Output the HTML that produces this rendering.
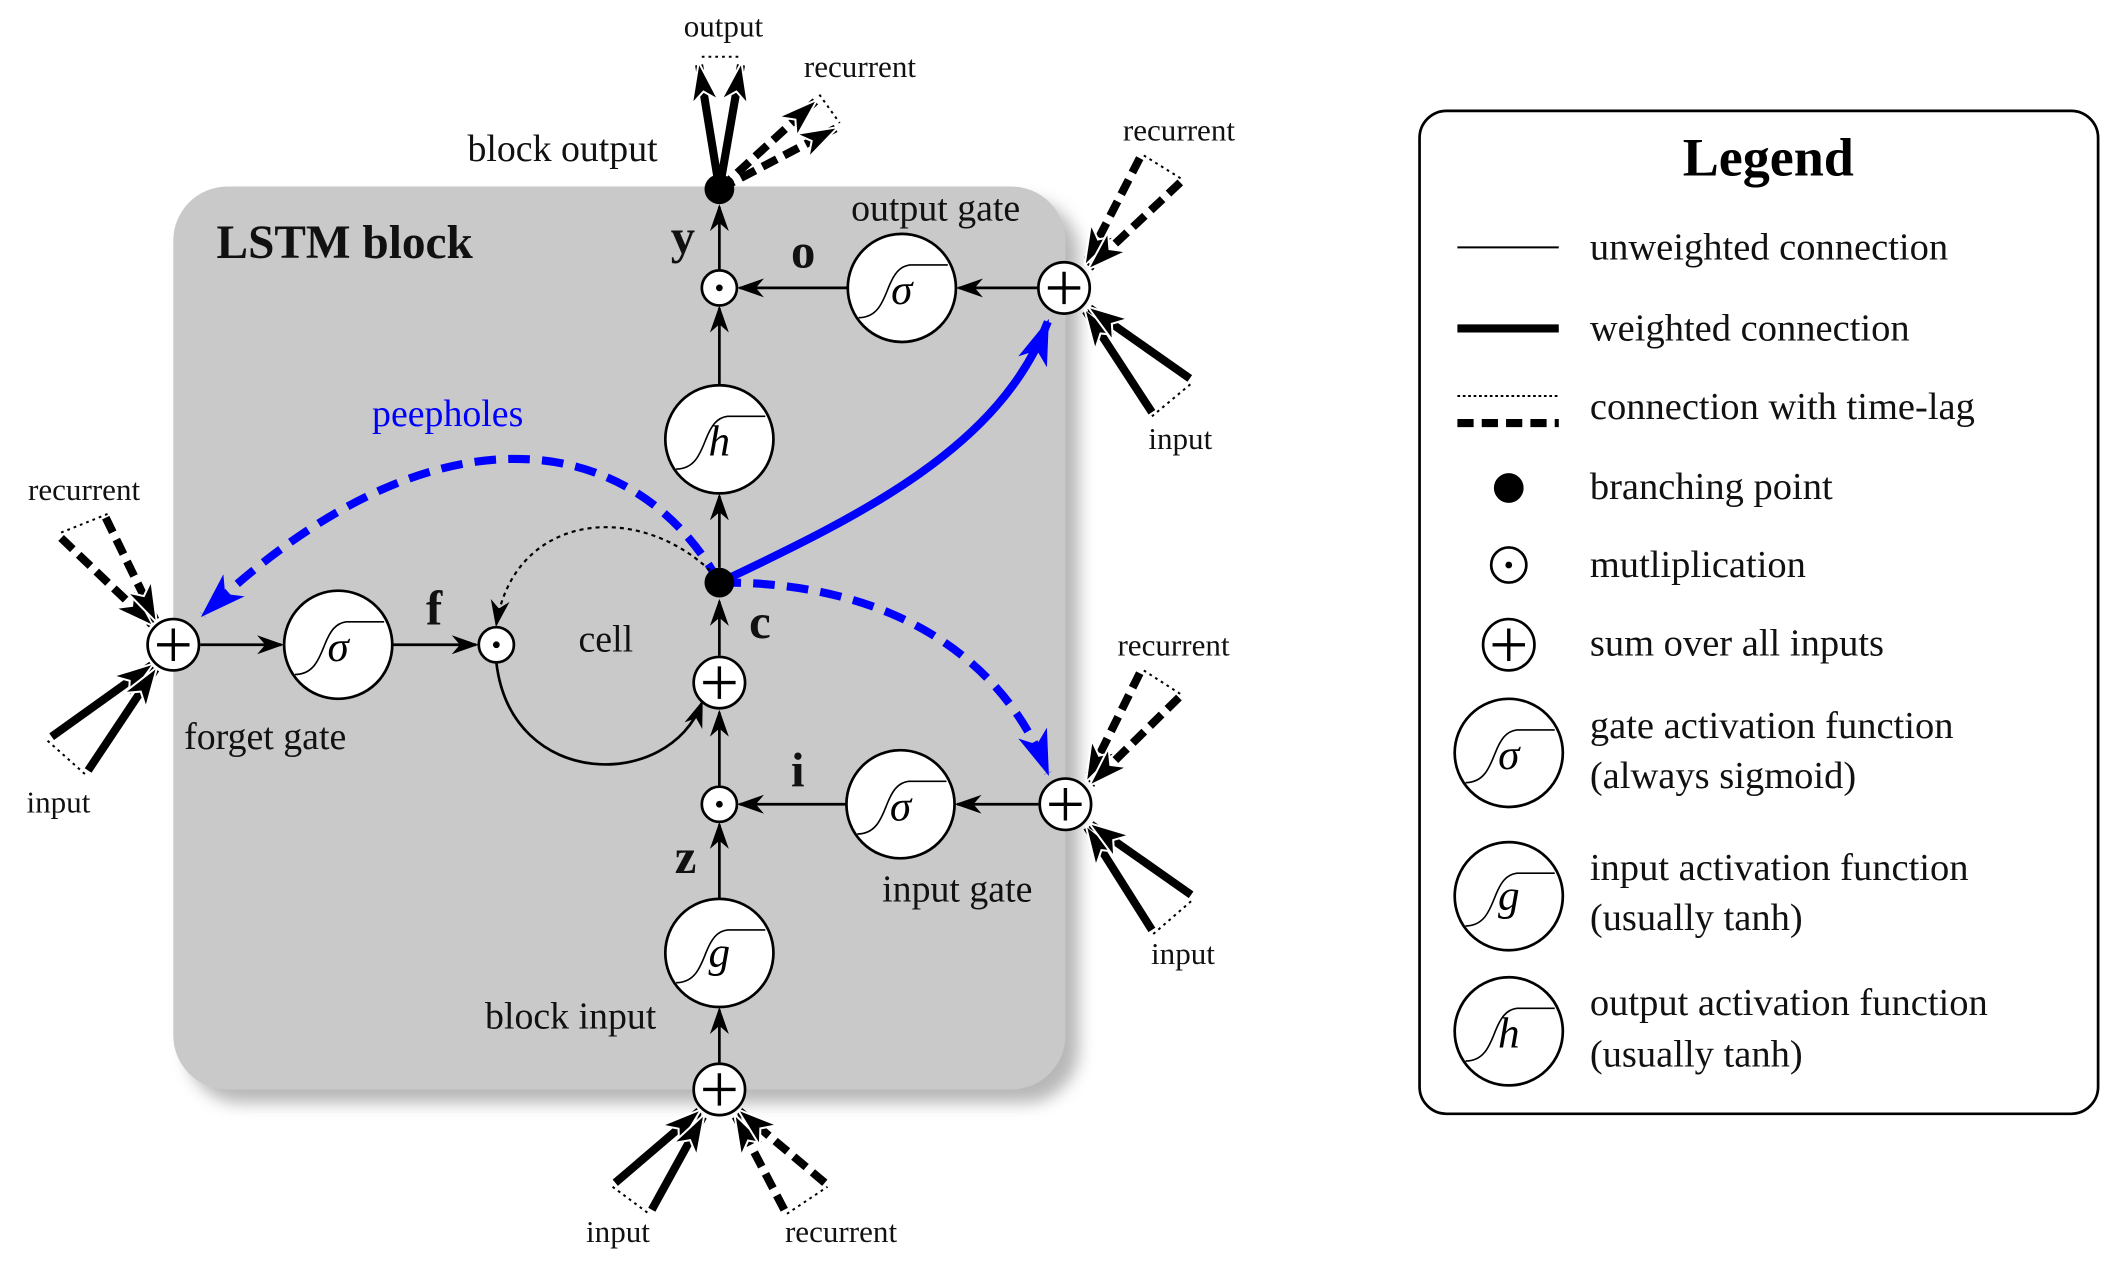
<!DOCTYPE html>
<html><head><meta charset="utf-8"><style>
html,body{margin:0;padding:0;background:#fff;}
svg{display:block;}
text{font-family:"Liberation Serif",serif;}
</style></head><body>
<svg width="2120" height="1276" viewBox="0 0 1568 944" xmlns="http://www.w3.org/2000/svg">
<defs>
<marker id="ah" viewBox="0 0 20 20" refX="18" refY="10" markerWidth="20" markerHeight="20" markerUnits="userSpaceOnUse" orient="auto">
<path d="M0,3 L20,10 L0,17 L6,10 Z" fill="#000"/></marker>
<marker id="at" viewBox="0 0 30 24" refX="28" refY="12" markerWidth="30" markerHeight="24" markerUnits="userSpaceOnUse" orient="auto">
<path d="M0,2 L30,12 L0,22 L8,12 Z" fill="#000" stroke="#fff" stroke-width="1.5"/></marker>
<marker id="ab" viewBox="0 0 30 24" refX="28" refY="12" markerWidth="34" markerHeight="28" markerUnits="userSpaceOnUse" orient="auto">
<path d="M0,2 L30,12 L0,22 L8,12 Z" fill="#00f"/></marker>
<filter id="sh" x="-10%" y="-10%" width="130%" height="130%"><feGaussianBlur stdDeviation="6"/></filter>
<g id="sig"><path d="M-32,22 C-18,22 -14,10 -10,0 C-6,-10 -2,-16 6,-17 L34,-17" fill="none" stroke="#000" stroke-width="1.2"/></g>
</defs>
<rect x="138" y="148" width="660" height="668" rx="40" fill="#999" filter="url(#sh)" opacity="0.7"/>
<rect x="128" y="138" width="660" height="668" rx="40" fill="#c9c9c9"/>
<text x="160" y="191" font-size="35" font-weight="bold" fill="#111">LSTM block</text>

<!-- blue peepholes -->
<path d="M532,431 C470,318 320,292 150,455" fill="none" stroke="#00f" stroke-width="6" stroke-dasharray="16,9" marker-end="url(#ab)"/>
<path d="M532,431 C650,430 740,480 775,572" fill="none" stroke="#00f" stroke-width="6" stroke-dasharray="16,9" marker-end="url(#ab)"/>
<path d="M532,431 C640,380 740,330 775,238" fill="none" stroke="#00f" stroke-width="6" marker-end="url(#ab)"/>
<text x="331" y="315" font-size="28" fill="#00f" text-anchor="middle">peepholes</text>

<!-- thin connections -->
<g stroke="#000" stroke-width="2" fill="none">
<line x1="532" y1="786" x2="532" y2="747" marker-end="url(#ah)"/>
<line x1="532" y1="665" x2="532" y2="610" marker-end="url(#ah)"/>
<line x1="532" y1="582" x2="532" y2="527" marker-end="url(#ah)"/>
<line x1="532" y1="485" x2="532" y2="445" marker-end="url(#ah)"/>
<line x1="532" y1="420" x2="532" y2="367" marker-end="url(#ah)"/>
<line x1="532" y1="285" x2="532" y2="228" marker-end="url(#ah)"/>
<line x1="532" y1="200" x2="532" y2="153" marker-end="url(#ah)"/>
<line x1="767" y1="213" x2="709" y2="213" marker-end="url(#ah)"/>
<line x1="627" y1="213" x2="547" y2="213" marker-end="url(#ah)"/>
<line x1="768" y1="595" x2="708" y2="595" marker-end="url(#ah)"/>
<line x1="626" y1="595" x2="547" y2="595" marker-end="url(#ah)"/>
<line x1="148" y1="477" x2="208" y2="477" marker-end="url(#ah)"/>
<line x1="290" y1="477" x2="352" y2="477" marker-end="url(#ah)"/>
<path d="M367,490 C378,585 495,585 519,520" marker-end="url(#ah)"/>
<path d="M525,422 C470,370 380,380 367,462" stroke-dasharray="3,3" stroke-width="1.6" marker-end="url(#ah)"/>
</g>

<!-- weighted external connections -->
<g stroke="#000" stroke-width="6" fill="none">
<line x1="532" y1="140" x2="517" y2="48" marker-end="url(#at)"/>
<line x1="532" y1="140" x2="548" y2="48" marker-end="url(#at)"/>
<line x1="532" y1="140" x2="603" y2="75" stroke-dasharray="12,6" marker-end="url(#at)"/>
<line x1="532" y1="140" x2="618" y2="95" stroke-dasharray="12,6" marker-end="url(#at)"/>
<line x1="843" y1="117" x2="803" y2="195" stroke-dasharray="12,6" marker-end="url(#at)"/>
<line x1="873" y1="135" x2="806" y2="198" stroke-dasharray="12,6" marker-end="url(#at)"/>
<line x1="852" y1="305" x2="803" y2="230" marker-end="url(#at)"/>
<line x1="880" y1="280" x2="806" y2="228" marker-end="url(#at)"/>
<line x1="843" y1="498" x2="804" y2="577" stroke-dasharray="12,6" marker-end="url(#at)"/>
<line x1="872" y1="516" x2="807" y2="580" stroke-dasharray="12,6" marker-end="url(#at)"/>
<line x1="852" y1="688" x2="804" y2="612" marker-end="url(#at)"/>
<line x1="881" y1="662" x2="807" y2="610" marker-end="url(#at)"/>
<line x1="45" y1="398" x2="112" y2="462" stroke-dasharray="12,6" marker-end="url(#at)"/>
<line x1="78" y1="383" x2="115" y2="459" stroke-dasharray="12,6" marker-end="url(#at)"/>
<line x1="38" y1="545" x2="112" y2="492" marker-end="url(#at)"/>
<line x1="65" y1="570" x2="115" y2="495" marker-end="url(#at)"/>
<line x1="455" y1="875" x2="517" y2="822" marker-end="url(#at)"/>
<line x1="482" y1="895" x2="520" y2="826" marker-end="url(#at)"/>
<line x1="580" y1="895" x2="544" y2="826" stroke-dasharray="12,6" marker-end="url(#at)"/>
<line x1="610" y1="875" x2="547" y2="822" stroke-dasharray="12,6" marker-end="url(#at)"/>
</g>
<g stroke="#000" stroke-width="1.5" stroke-dasharray="2,3" fill="none">
<line x1="519" y1="42" x2="546" y2="42"/><line x1="606" y1="70" x2="621" y2="91"/>
<line x1="846" y1="115" x2="875" y2="133"/><line x1="852" y1="308" x2="882" y2="283"/>
<line x1="846" y1="496" x2="874" y2="514"/><line x1="853" y1="691" x2="883" y2="665"/>
<line x1="45" y1="394" x2="80" y2="380"/><line x1="35" y1="548" x2="63" y2="573"/>
<line x1="453" y1="878" x2="480" y2="898"/><line x1="582" y1="898" x2="612" y2="878"/>
</g>

<!-- nodes -->
<g stroke="#000" stroke-width="2" fill="#fff">
<circle cx="667" cy="213" r="40"/><circle cx="532" cy="325" r="40"/>
<circle cx="666" cy="595" r="40"/><circle cx="532" cy="705" r="40"/><circle cx="250" cy="477" r="40"/>
<circle cx="532" cy="213" r="13"/><circle cx="532" cy="595" r="13"/><circle cx="367" cy="477" r="13"/>
<circle cx="787" cy="213" r="19"/><circle cx="788" cy="595" r="19"/><circle cx="532" cy="505" r="19"/>
<circle cx="532" cy="806" r="19"/><circle cx="128" cy="477" r="19"/>
</g>
<g fill="#000"><circle cx="532" cy="140" r="11"/><circle cx="532" cy="431" r="11"/>
<circle cx="532" cy="213" r="2.5"/><circle cx="532" cy="595" r="2.5"/><circle cx="367" cy="477" r="2.5"/></g>
<g stroke="#000" stroke-width="2.5">
<path d="M775,213h24M787,201v24"/><path d="M776,595h24M788,583v24"/><path d="M520,505h24M532,493v24"/>
<path d="M520,806h24M532,794v24"/><path d="M116,477h24M128,465v24"/></g>
<use href="#sig" x="667" y="213"/><use href="#sig" x="532" y="325"/><use href="#sig" x="666" y="595"/>
<use href="#sig" x="532" y="705"/><use href="#sig" x="250" y="477"/>
<g font-size="32" font-style="italic" text-anchor="middle">
<text x="667" y="225">σ</text><text x="532" y="337">h</text><text x="666" y="607">σ</text>
<text x="532" y="715">g</text><text x="250" y="489">σ</text></g>

<!-- labels -->
<g font-size="28" fill="#111">
<text x="535" y="27" font-size="23" text-anchor="middle">output</text>
<text x="636" y="57" font-size="23" text-anchor="middle">recurrent</text>
<text x="416" y="119" text-anchor="middle">block output</text>
<text x="692" y="163" text-anchor="middle">output gate</text>
<text x="872" y="104" font-size="23" text-anchor="middle">recurrent</text>
<text x="873" y="332" font-size="23" text-anchor="middle">input</text>
<text x="62" y="370" font-size="23" text-anchor="middle">recurrent</text>
<text x="43" y="601" font-size="23" text-anchor="middle">input</text>
<text x="196" y="554" text-anchor="middle">forget gate</text>
<text x="448" y="482" text-anchor="middle">cell</text>
<text x="868" y="485" font-size="23" text-anchor="middle">recurrent</text>
<text x="875" y="713" font-size="23" text-anchor="middle">input</text>
<text x="708" y="667" text-anchor="middle">input gate</text>
<text x="422" y="761" text-anchor="middle">block input</text>
<text x="457" y="919" font-size="23" text-anchor="middle">input</text>
<text x="622" y="919" font-size="23" text-anchor="middle">recurrent</text>
</g>
<g font-size="36" font-weight="bold" fill="#111" text-anchor="middle">
<text x="505" y="187">y</text><text x="594" y="198">o</text><text x="321" y="462">f</text>
<text x="562" y="472">c</text><text x="590" y="582">i</text><text x="507" y="646">z</text></g>

<!-- legend -->
<rect x="1050" y="82" width="502" height="742" rx="20" fill="#fff" stroke="#000" stroke-width="2"/>
<text x="1308" y="130" font-size="40" font-weight="bold" text-anchor="middle">Legend</text>
<line x1="1078" y1="183" x2="1153" y2="183" stroke="#000" stroke-width="1.5"/>
<line x1="1078" y1="243" x2="1153" y2="243" stroke="#000" stroke-width="6"/>
<line x1="1078" y1="293" x2="1153" y2="293" stroke="#000" stroke-width="1.5" stroke-dasharray="2,2"/>
<line x1="1078" y1="313" x2="1153" y2="313" stroke="#000" stroke-width="6" stroke-dasharray="12,6"/>
<circle cx="1116" cy="361" r="11" fill="#000"/>
<circle cx="1116" cy="418" r="13" fill="#fff" stroke="#000" stroke-width="2"/><circle cx="1116" cy="418" r="2.5"/>
<circle cx="1116" cy="477" r="19" fill="#fff" stroke="#000" stroke-width="2"/>
<path d="M1104,477h24M1116,465v24" stroke="#000" stroke-width="2.5"/>
<g stroke="#000" stroke-width="2" fill="#fff"><circle cx="1116" cy="557" r="40"/><circle cx="1116" cy="663" r="40"/><circle cx="1116" cy="763" r="40"/></g>
<use href="#sig" x="1116" y="557"/><use href="#sig" x="1116" y="663"/><use href="#sig" x="1116" y="763"/>
<g font-size="32" font-style="italic" text-anchor="middle"><text x="1116" y="569">σ</text><text x="1116" y="673">g</text><text x="1116" y="775">h</text></g>
<g font-size="28.5" fill="#111">
<text x="1176" y="192">unweighted connection</text>
<text x="1176" y="252">weighted connection</text>
<text x="1176" y="310">connection with time-lag</text>
<text x="1176" y="369">branching point</text>
<text x="1176" y="427">mutliplication</text>
<text x="1176" y="485">sum over all inputs</text>
<text x="1176" y="546">gate activation function</text>
<text x="1176" y="583">(always sigmoid)</text>
<text x="1176" y="651">input activation function</text>
<text x="1176" y="688">(usually tanh)</text>
<text x="1176" y="751">output activation function</text>
<text x="1176" y="789">(usually tanh)</text>
</g>
</svg>
</body></html>
